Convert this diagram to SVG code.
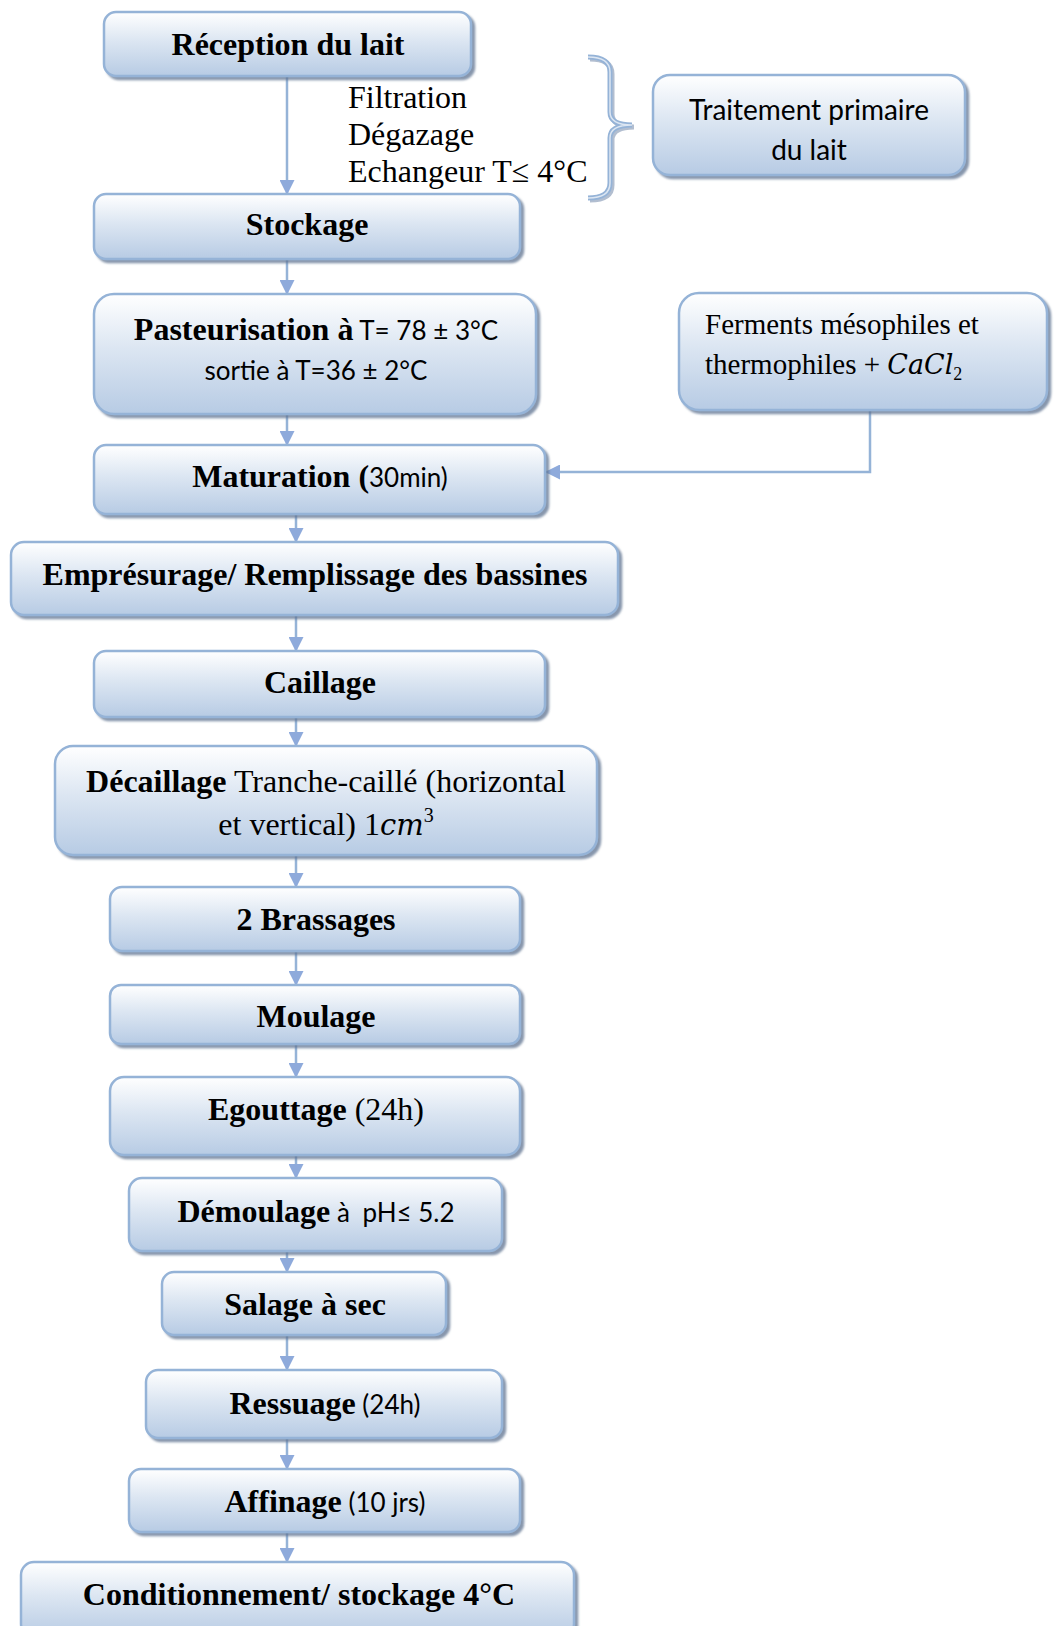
<svg xmlns="http://www.w3.org/2000/svg" width="1054" height="1626" viewBox="0 0 1054 1626">
<defs>
<linearGradient id="g" x1="0" y1="0" x2="0" y2="1">
<stop offset="0" stop-color="#FFFFFF"/>
<stop offset="0.45" stop-color="#DCE6F2"/>
<stop offset="1" stop-color="#B7CBE4"/>
</linearGradient>
<filter id="sh" x="-5%" y="-10%" width="115%" height="130%">
<feDropShadow dx="3" dy="3" stdDeviation="1.2" flood-color="#5F7391" flood-opacity="0.75"/>
</filter>
<marker id="ah" markerWidth="15" markerHeight="15" refX="14" refY="7.5" orient="auto" markerUnits="userSpaceOnUse">
<path d="M0,0 L15,7.5 L0,15 z" fill="#8EAADB"/>
</marker>
</defs>
<style>
.box{fill:url(#g);stroke:#95B3D7;stroke-width:2.5;filter:url(#sh)}
.b{font-family:"Liberation Serif",serif;font-weight:bold;font-size:32px;fill:#000}
.r{font-family:"Liberation Serif",serif;font-weight:normal;font-size:32px;fill:#000}
.s{font-family:Lato,"Liberation Sans",sans-serif;font-weight:normal;font-size:26px;fill:#000}
.m{font-family:"DejaVu Serif","Liberation Serif",serif;font-style:italic;font-weight:normal}
.c{stroke:#95B3D7;stroke-width:2.5;fill:none}
</style>

<g id="connectors">
<line class="c" x1="287" y1="76" x2="287" y2="194" marker-end="url(#ah)"/>
<line class="c" x1="287" y1="259" x2="287" y2="294" marker-end="url(#ah)"/>
<line class="c" x1="287" y1="414" x2="287" y2="445" marker-end="url(#ah)"/>
<line class="c" x1="296" y1="514" x2="296" y2="542" marker-end="url(#ah)"/>
<line class="c" x1="296" y1="615" x2="296" y2="651" marker-end="url(#ah)"/>
<line class="c" x1="296" y1="717" x2="296" y2="746" marker-end="url(#ah)"/>
<line class="c" x1="296" y1="855" x2="296" y2="887" marker-end="url(#ah)"/>
<line class="c" x1="296" y1="951" x2="296" y2="985" marker-end="url(#ah)"/>
<line class="c" x1="296" y1="1044" x2="296" y2="1077" marker-end="url(#ah)"/>
<line class="c" x1="296" y1="1155" x2="296" y2="1178" marker-end="url(#ah)"/>
<line class="c" x1="287" y1="1251" x2="287" y2="1272" marker-end="url(#ah)"/>
<line class="c" x1="287" y1="1335" x2="287" y2="1370" marker-end="url(#ah)"/>
<line class="c" x1="287" y1="1438" x2="287" y2="1469" marker-end="url(#ah)"/>
<line class="c" x1="287" y1="1532" x2="287" y2="1562" marker-end="url(#ah)"/>
<polyline class="c" points="870,410 870,472 546,472" marker-end="url(#ah)"/>
</g>

<g id="brace">
<path d="M588,57 Q610,57 610,72 L610,112 Q610,125 632,125 Q610,125 610,138 L610,183 Q610,198 588,198" fill="none" stroke="#7F93B0" stroke-width="5" transform="translate(2,2)" opacity="0.6"/>
<path d="M588,57 Q610,57 610,72 L610,112 Q610,125 632,125 Q610,125 610,138 L610,183 Q610,198 588,198" fill="none" stroke="#95B3D7" stroke-width="5"/>
<path d="M588,57 Q610,57 610,72 L610,112 Q610,125 632,125 Q610,125 610,138 L610,183 Q610,198 588,198" fill="none" stroke="#DCE6F2" stroke-width="1.5"/>
</g>

<g id="notes">
<text class="r" x="348" y="108">Filtration</text>
<text class="r" x="348" y="145">Dégazage</text>
<text class="r" x="348" y="182">Echangeur T≤ 4°C</text>
</g>

<g id="n-reception">
<rect class="box" x="104" y="12" width="367" height="64" rx="12"/>
<text class="b" x="288" y="55" text-anchor="middle">Réception du lait</text>
</g>

<g id="n-traitement">
<rect class="box" x="653" y="75" width="312" height="100" rx="17"/>
<text class="s" x="809" y="120" text-anchor="middle" style="font-size:28px">Traitement primaire</text>
<text class="s" x="809" y="160" text-anchor="middle" style="font-size:28px">du lait</text>
</g>

<g id="n-stockage">
<rect class="box" x="94" y="194" width="426" height="65" rx="12"/>
<text class="b" x="307" y="235" text-anchor="middle">Stockage</text>
</g>

<g id="n-pasteurisation">
<rect class="box" x="94" y="294" width="442" height="120" rx="20"/>
<text x="316" y="340" text-anchor="middle"><tspan class="b">Pasteurisation à</tspan><tspan class="s"> T= 78 ± 3°C</tspan></text>
<text class="s" x="316" y="380" text-anchor="middle">sortie à T=36 ± 2°C</text>
</g>

<g id="n-ferments">
<rect class="box" x="679" y="293" width="368" height="117" rx="20"/>
<text class="r" x="705" y="334" style="font-size:29px">Ferments mésophiles et</text>
<text class="r" x="705" y="374" style="font-size:29px">thermophiles + <tspan class="m" style="font-size:27px">CaCl</tspan><tspan style="font-size:18px" dy="6">2</tspan></text>
</g>

<g id="n-maturation">
<rect class="box" x="94" y="445" width="451" height="69" rx="12"/>
<text x="320" y="487" text-anchor="middle"><tspan class="b">Maturation (</tspan><tspan class="s">30min)</tspan></text>
</g>

<g id="n-empresurage">
<rect class="box" x="11" y="542" width="607" height="73" rx="13"/>
<text class="b" x="315" y="585" text-anchor="middle">Emprésurage/ Remplissage des bassines</text>
</g>

<g id="n-caillage">
<rect class="box" x="94" y="651" width="451" height="66" rx="12"/>
<text class="b" x="320" y="693" text-anchor="middle">Caillage</text>
</g>

<g id="n-decaillage">
<rect class="box" x="55" y="746" width="542" height="109" rx="18"/>
<text x="326" y="792" text-anchor="middle"><tspan class="b">Décaillage</tspan><tspan class="r"> Tranche-caillé (horizontal</tspan></text>
<text class="r" x="326" y="835" text-anchor="middle">et vertical) 1<tspan class="m" style="font-size:29px">cm</tspan><tspan style="font-size:20px" dy="-13">3</tspan></text>
</g>

<g id="n-brassages">
<rect class="box" x="110" y="887" width="410" height="64" rx="12"/>
<text class="b" x="316" y="930" text-anchor="middle">2 Brassages</text>
</g>

<g id="n-moulage">
<rect class="box" x="110" y="985" width="410" height="59" rx="11"/>
<text class="b" x="316" y="1027" text-anchor="middle">Moulage</text>
</g>

<g id="n-egouttage">
<rect class="box" x="110" y="1077" width="410" height="78" rx="14"/>
<text x="316" y="1120" text-anchor="middle"><tspan class="b">Egouttage</tspan><tspan class="r"> (24h)</tspan></text>
</g>

<g id="n-demoulage">
<rect class="box" x="129" y="1178" width="373" height="73" rx="13"/>
<text x="316" y="1222" text-anchor="middle"><tspan class="b">Démoulage</tspan><tspan class="s"> à </tspan><tspan class="s" dx="6">pH≤ 5.2</tspan></text>
</g>

<g id="n-salage">
<rect class="box" x="162" y="1272" width="284" height="63" rx="12"/>
<text class="b" x="305" y="1315" text-anchor="middle">Salage à sec</text>
</g>

<g id="n-ressuage">
<rect class="box" x="146" y="1370" width="356" height="68" rx="12"/>
<text x="325" y="1414" text-anchor="middle"><tspan class="b">Ressuage</tspan><tspan class="s"> (24h)</tspan></text>
</g>

<g id="n-affinage">
<rect class="box" x="129" y="1469" width="391" height="63" rx="12"/>
<text x="325" y="1512" text-anchor="middle"><tspan class="b">Affinage</tspan><tspan class="s"> (10 jrs)</tspan></text>
</g>

<g id="n-conditionnement">
<rect class="box" x="21" y="1562" width="553" height="75" rx="13"/>
<text class="b" x="299" y="1605" text-anchor="middle">Conditionnement/ stockage 4°C</text>
</g>
</svg>
